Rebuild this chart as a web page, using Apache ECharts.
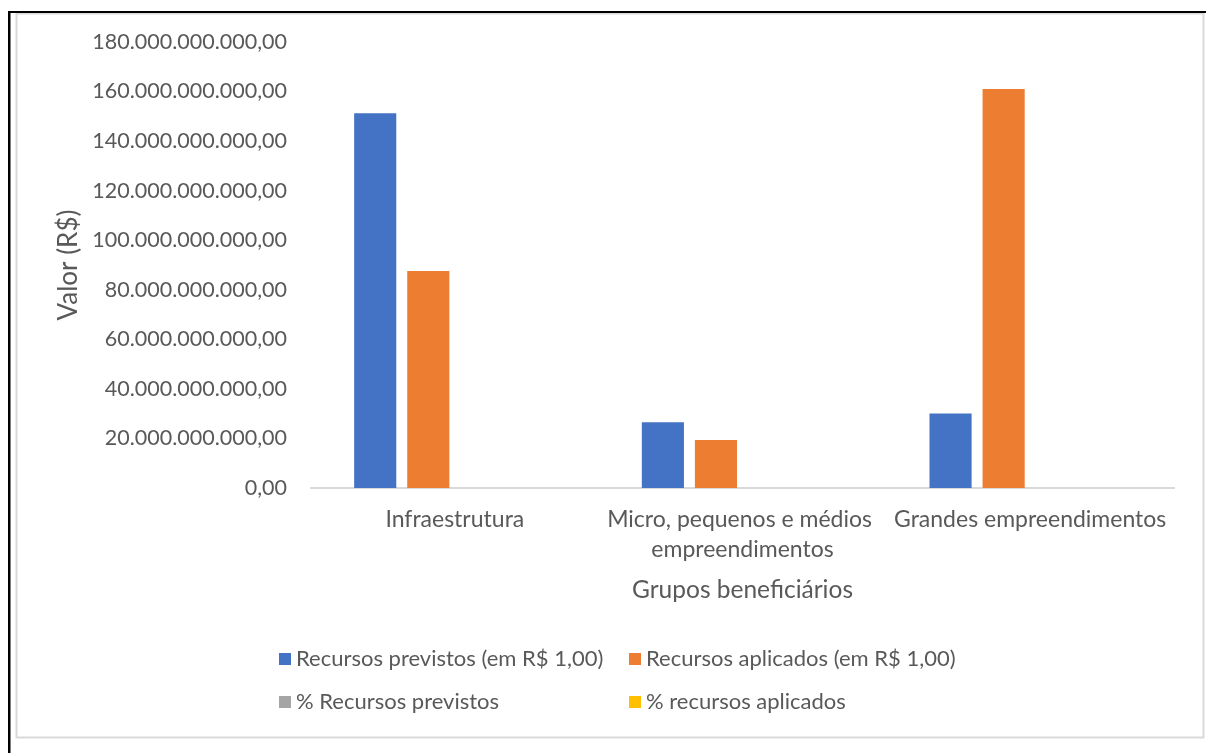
<!DOCTYPE html>
<html>
<head>
<meta charset="utf-8">
<style>
  html, body { margin: 0; padding: 0; background: #ffffff; }
  #chart { width: 1206px; height: 753px; }
</style>
<script src="https://cdn.jsdelivr.net/npm/echarts@6/dist/echarts.min.js"></script>
</head>
<body>
<div id="chart"></div>
<script>
// Grupos beneficiários
const categories = [
  'Infraestrutura',
  'Micro, pequenos e médios empreendimentos',
  'Grandes empreendimentos'
];

// Valores em R$
const recursosPrevistos = [151200000000, 26500000000, 30100000000];
const recursosAplicados = [87600000000, 19400000000, 161000000000];

// Participação percentual de cada grupo
const pctPrevistos = [72.8, 12.8, 14.5];
const pctAplicados = [32.7, 7.2, 60.1];

const seriesNames = [
  'Recursos previstos (em R$ 1,00)',
  'Recursos aplicados (em R$ 1,00)',
  '% Recursos previstos',
  '% recursos aplicados'
];

const yTicks = { min: 0, max: 180000000000, interval: 20000000000 };

const FONT = 'Lato, "Open Sans", sans-serif';
const TEXT = '#595959';

// 180000000000 -> "180.000.000.000,00"
function formatBRL(v) {
  const s = Math.round(v).toString().replace(/\B(?=(\d{3})+(?!\d))/g, '.');
  return s + ',00';
}

const chart = echarts.init(document.getElementById('chart'), null, { renderer: 'canvas' });

function legendItem(name, left, top) {
  return {
    data: [name],
    left: left,
    top: top,
    padding: 0,
    orient: 'horizontal',
    icon: 'rect',
    itemWidth: 12,
    itemHeight: 12,
    selectedMode: false,
    textStyle: { color: TEXT, fontFamily: FONT, fontSize: 22, lineHeight: 24 }
  };
}

chart.setOption({
  animation: false,
  backgroundColor: '#ffffff',
  color: ['#4472C4', '#ED7D31', '#A5A5A5', '#FFC000'],
  graphic: [
    // frame around the chart area
    { type: 'rect', shape: { x: 16.5, y: 13.5, width: 1187, height: 724 },
      style: { fill: null, stroke: '#d9d9d9', lineWidth: 2 }, silent: true },
    { type: 'rect', shape: { x: 8, y: 11, width: 2.5, height: 742 },
      style: { fill: '#000000' }, silent: true },
    { type: 'rect', shape: { x: 8, y: 11, width: 1198, height: 2 },
      style: { fill: '#000000' }, silent: true }
  ],
  grid: { left: 311, right: 32, top: 42, bottom: 265, containLabel: false },
  legend: [
    legendItem(seriesNames[0], 279, 647),
    legendItem(seriesNames[1], 629, 647),
    legendItem(seriesNames[2], 279, 690),
    legendItem(seriesNames[3], 629, 690)
  ],
  xAxis: {
    type: 'category',
    data: categories,
    name: 'Grupos beneficiários',
    nameLocation: 'middle',
    nameGap: 90,
    nameTextStyle: { color: TEXT, fontFamily: FONT, fontSize: 24.5 },
    axisLine: { show: true, lineStyle: { color: '#d9d9d9', width: 2 } },
    axisTick: { show: false },
    axisLabel: {
      color: TEXT, fontFamily: FONT, fontSize: 23, margin: 17,
      lineHeight: 30, width: 285, overflow: 'break', interval: 0
    },
    splitLine: { show: false }
  },
  yAxis: {
    type: 'value',
    min: yTicks.min,
    max: yTicks.max,
    interval: yTicks.interval,
    name: 'Valor (R$)',
    nameLocation: 'middle',
    nameRotate: 90,
    nameGap: 228,
    nameTextStyle: { color: TEXT, fontFamily: FONT, fontSize: 26 },
    axisLine: { show: false },
    axisTick: { show: false },
    splitLine: { show: false },
    axisLabel: {
      color: TEXT, fontFamily: FONT, fontSize: 21.5, margin: 24,
      formatter: formatBRL
    }
  },
  series: [
    { name: seriesNames[0], type: 'bar', data: recursosPrevistos, barGap: '26%', barCategoryGap: '30%' },
    { name: seriesNames[1], type: 'bar', data: recursosAplicados },
    { name: seriesNames[2], type: 'bar', data: pctPrevistos },
    { name: seriesNames[3], type: 'bar', data: pctAplicados }
  ]
});
</script>
</body>
</html>
